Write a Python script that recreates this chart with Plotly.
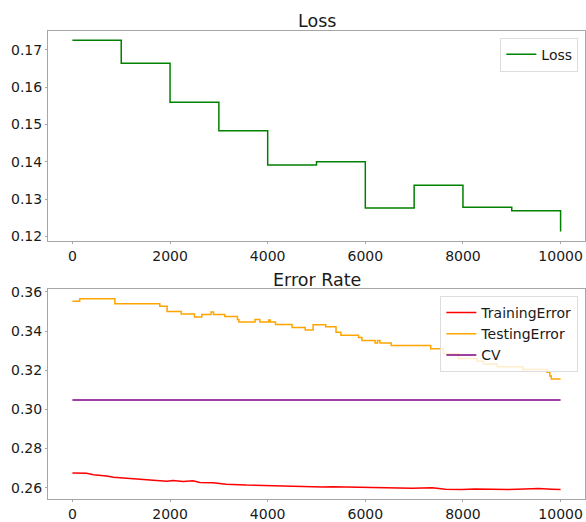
import plotly.graph_objects as go

# ---- data ----
loss_x = [0, 1000, 2000, 3000, 4000, 5000, 6000, 7000, 8000, 9000, 10000]
loss_y = [0.1725, 0.1664, 0.1559, 0.1483, 0.1391, 0.1400, 0.1276, 0.1337, 0.1278, 0.1269, 0.1213]

train_x = [0, 290, 430, 700, 840, 1110, 1380, 1650, 1930, 2060, 2270, 2470, 2610, 2880, 3150,
           3560, 3970, 4380, 4780, 5120, 5330, 5870, 6420, 6960, 7370, 7640, 7980, 8250, 8590,
           8930, 9270, 9550, 9820, 10000]
train_y = [0.2675, 0.2673, 0.2666, 0.2660, 0.2653, 0.2648, 0.2640, 0.2636, 0.2633, 0.2636, 0.2631,
           0.2635, 0.2626, 0.2625, 0.2618, 0.2613, 0.2610, 0.2608, 0.2606, 0.2603, 0.2605, 0.2603,
           0.2600, 0.2597, 0.2600, 0.2592, 0.2590, 0.2593, 0.2592, 0.2590, 0.2593, 0.2596, 0.2592,
           0.2590]

test_x = [0, 150, 870, 1790, 1940, 2230, 2500, 2650, 2840, 2890, 3120, 3380, 3410, 3740, 3840,
          4020, 4050, 4160, 4500, 4770, 4930, 5190, 5400, 5500, 5860, 5930, 6200, 6250, 6300,
          6530, 7340, 7600, 7910, 8290, 8420, 8700, 9230, 9720, 9780, 9810, 10000]
test_y = [0.3552, 0.3565, 0.3540, 0.3527, 0.3500, 0.3487, 0.3472, 0.3485, 0.3498, 0.3485, 0.3475,
          0.3459, 0.3447, 0.3459, 0.3447, 0.3457, 0.3447, 0.3434, 0.3419, 0.3406, 0.3432, 0.3422,
          0.3394, 0.3379, 0.3367, 0.3352, 0.3339, 0.3352, 0.3339, 0.3326, 0.3310, 0.3284, 0.3260,
          0.3246, 0.3232, 0.3218, 0.3204, 0.3190, 0.3170, 0.3155, 0.3155]

cv_x = [0, 10000]
cv_y = [0.3048, 0.3048]

x_ticks = [0, 2000, 4000, 6000, 8000, 10000]
x_tick_text = ["0", "2000", "4000", "6000", "8000", "10000"]
loss_ticks = [0.12, 0.13, 0.14, 0.15, 0.16, 0.17]
err_ticks = [0.26, 0.28, 0.30, 0.32, 0.34, 0.36]

FONT = "DejaVu Sans"
GRAY = "#a6a6a6"
TXT = "#1a1a1a"
LW = 1.5

fig = go.Figure()
fig.add_trace(go.Scatter(x=loss_x, y=loss_y, mode="lines", name="Loss",
                         line=dict(color="green", width=LW, shape="hv"),
                         xaxis="x", yaxis="y", legend="legend"))
fig.add_trace(go.Scatter(x=train_x, y=train_y, mode="lines", name="TrainingError",
                         line=dict(color="red", width=LW),
                         xaxis="x2", yaxis="y2", legend="legend2"))
fig.add_trace(go.Scatter(x=test_x, y=test_y, mode="lines", name="TestingError",
                         line=dict(color="orange", width=LW, shape="hv"),
                         xaxis="x2", yaxis="y2", legend="legend2"))
fig.add_trace(go.Scatter(x=cv_x, y=cv_y, mode="lines", name="CV",
                         line=dict(color="purple", width=LW),
                         xaxis="x2", yaxis="y2", legend="legend2"))

axis_common = dict(showline=True, linecolor=GRAY, linewidth=1, mirror=True,
                   showgrid=False, zeroline=False, ticks="outside", ticklen=2,
                   tickcolor=GRAY, tickfont=dict(family=FONT, size=14, color=TXT))

fig.update_layout(
    width=586, height=522,
    margin=dict(l=48, r=0, t=0, b=0),
    plot_bgcolor="white", paper_bgcolor="white",
    font=dict(family=FONT, size=14, color=TXT),
    xaxis=dict(domain=[0, 1], range=[-500, 10500], tickvals=x_ticks, ticktext=x_tick_text,
               anchor="y", **axis_common),
    yaxis=dict(domain=[0.5358, 0.9496], range=[0.1187, 0.1751], tickvals=loss_ticks,
               tickformat=".2f", anchor="x", **axis_common),
    xaxis2=dict(domain=[0, 1], range=[-500, 10500], tickvals=x_ticks, ticktext=x_tick_text,
                anchor="y2", **axis_common),
    yaxis2=dict(domain=[0.0287, 0.4412], range=[0.2540, 0.3613], tickvals=err_ticks,
                tickformat=".2f", anchor="x2", **axis_common),
    legend=dict(x=0.9876, y=0.936, xanchor="right", yanchor="top",
                bgcolor="rgba(255,255,255,0.8)", bordercolor="#dddddd", borderwidth=1,
                font=dict(family=FONT, size=14, color=TXT)),
    legend2=dict(x=0.9876, y=0.4285, xanchor="right", yanchor="top",
                 bgcolor="rgba(255,255,255,0.8)", bordercolor="#dddddd", borderwidth=1,
                 font=dict(family=FONT, size=14, color=TXT)),
    showlegend=True,
    annotations=[
        dict(text="Loss", x=0.5, y=0.968, xref="paper", yref="paper", showarrow=False,
             xanchor="center", yanchor="middle", font=dict(family=FONT, size=17.5, color=TXT)),
        dict(text="Error Rate", x=0.5, y=0.4598, xref="paper", yref="paper", showarrow=False,
             xanchor="center", yanchor="middle", font=dict(family=FONT, size=17.5, color=TXT)),
    ],
)

fig.write_html("out.html", config={"displayModeBar": False},
               post_script="document.body.style.margin='0';document.body.style.overflow='hidden';")
